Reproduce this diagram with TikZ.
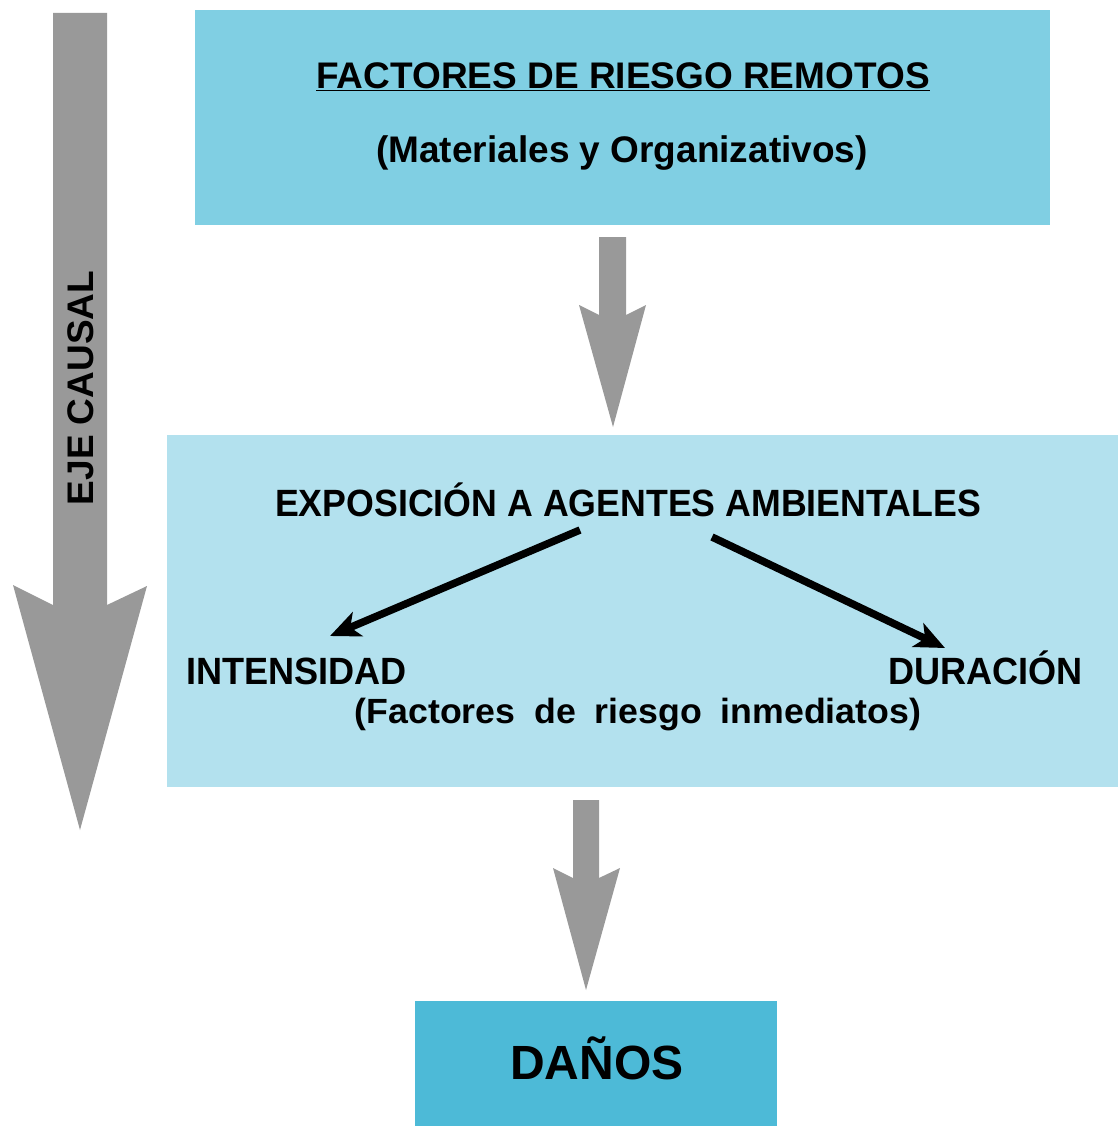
\documentclass[tikz,border=0pt]{standalone}
\usepackage{fontspec}
\usepackage{graphicx}
\setmainfont{Liberation Sans}
\newfontfamily\widefont[WordSpace=1.9]{Liberation Sans}
\usetikzlibrary{arrows.meta}
\definecolor{topc}{HTML}{80CFE3}
\definecolor{midc}{HTML}{B3E1EE}
\definecolor{botc}{HTML}{4DBAD7}
\definecolor{greyc}{HTML}{999999}
\newcommand{\sqz}[2]{\scalebox{#1}[1]{#2}}
\tikzset{
  boxA/.style={fill=topc, draw=none, inner sep=0pt},
  boxB/.style={fill=midc, draw=none, inner sep=0pt},
  boxC/.style={fill=botc, draw=none, inner sep=0pt},
  lbl/.style={inner sep=0pt, text=black},
  blockarrow/.style={fill=greyc, draw=none},
  blackarrow/.style={line width=7.5pt, draw=black, -{Stealth[length=30pt,width=26pt,inset=8pt]}},
}
\begin{document}
\begin{tikzpicture}[x=1pt,y=-1pt]
\useasboundingbox (0,0) rectangle (1118,1126);
% boxes
\node[boxA, minimum width=855pt, minimum height=215pt, anchor=north west] (top) at (195,10) {};
\node[boxB, minimum width=951pt, minimum height=352pt, anchor=north west] (mid) at (167,435) {};
\node[boxC, minimum width=362pt, minimum height=125pt, anchor=north west] (bot) at (415,1001) {};
% left causal arrow
\path[blockarrow] (53,13) -- (107,13) -- (107,605) -- (147,586) -- (80,830) -- (13,585) -- (53,605) -- cycle;
\node[lbl, rotate=90, font=\fontsize{37}{37}\selectfont\bfseries] (eje) at (81,388) {EJE CAUSAL};
% grey arrows between boxes
\path[blockarrow] (599,237) -- (626,237) -- (626,315) -- (646,305) -- (613,427) -- (579,305) -- (599,315) -- cycle;
\path[blockarrow] (573,800) -- (599,800) -- (599,878) -- (620,868) -- (586,990) -- (553,868) -- (573,878) -- cycle;
% texts
\node[lbl, font=\fontsize{37}{37}\selectfont\bfseries] (t1) at (623,77) {\underline{FACTORES DE RIESGO REMOTOS}};
\node[lbl, font=\fontsize{37}{37}\selectfont\bfseries] (t2) at (622,153) {(Materiales y Organizativos)};
\node[lbl, font=\fontsize{38}{38}\selectfont\bfseries] (expo) at (628,500) {\sqz{0.94}{EXPOSICIÓN A AGENTES AMBIENTALES}};
\node[lbl, font=\fontsize{38}{38}\selectfont\bfseries, anchor=base west] (inten) at (186,684) {\sqz{0.95}{INTENSIDAD}};
\node[lbl, font=\fontsize{38}{38}\selectfont\bfseries, anchor=base east] (dura) at (1083,684) {\sqz{0.95}{DURACIÓN}};
\node[lbl, font=\fontsize{35}{35}\selectfont\widefont\bfseries] (fact) at (638,715) {\sqz{1.02}{(Factores de riesgo inmediatos)}};
\node[lbl, font=\fontsize{48}{48}\selectfont\bfseries] (danos) at (597,1058) {DAÑOS};
% black arrows
\coordinate (la) at (580,530);
\coordinate (lb) at (330,636);
\coordinate (ra) at (712,537);
\coordinate (rb) at (945,648);
\draw[blackarrow] (la) -- (lb);
\draw[blackarrow] (ra) -- (rb);
\end{tikzpicture}
\end{document}
